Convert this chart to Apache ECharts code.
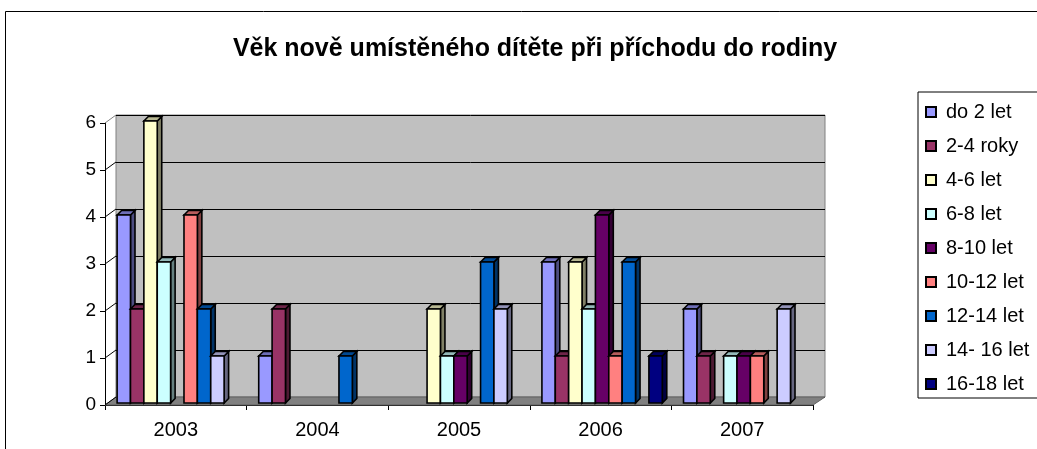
<!DOCTYPE html>
<html>
<head>
<meta charset="utf-8">
<title>Věk nově umístěného dítěte při příchodu do rodiny</title>
<script src="https://cdn.jsdelivr.net/npm/echarts@6/dist/echarts.min.js"></script>
<style>
  html, body { margin: 0; padding: 0; background: #fff; }
  #myChart { width: 1037px; height: 449px; }
</style>
</head>
<body>
<div id="myChart"></div>
<script>
// roky (kategorie osy x)
var years = ['2003', '2004', '2005', '2006', '2007']
// vekove skupiny (legenda)
var ageGroups = ['do 2 let', '2-4 roky', '4-6 let', '6-8 let', '8-10 let', '10-12 let', '12-14 let', '14- 16 let', '16-18 let']
var groupColors = ['#9999ff', '#993366', '#ffffcc', '#ccffff', '#660066', '#ff8080', '#0066cc', '#ccccff', '#000080']

// pocty deti podle roku
var do2let = [4, 1, 0, 3, 2]
var roky2to4 = [2, 2, 0, 1, 1]
var let4to6 = [6, 0, 2, 3, 0]
var let6to8 = [3, 0, 1, 2, 1]
var let8to10 = [0, 0, 1, 4, 1]
var let10to12 = [4, 0, 0, 1, 1]
var let12to14 = [2, 1, 3, 3, 0]
var let14to16 = [1, 0, 2, 0, 2]
var let16to18 = [0, 0, 0, 1, 0]
var groupValues = [do2let, roky2to4, let4to6, let6to8, let8to10, let10to12, let12to14, let14to16, let16to18]

var yTicks = [0, 1, 2, 3, 4, 5, 6]

var font = "'Liberation Sans', Arial, sans-serif"

// predni rovina grafu a zadni stena (3D efekt)
var front = { left: 105, top: 123, right: 224, bottom: 44 }
var wall = { left: 116, top: 115, right: 212, bottom: 52 }
var depth = 4.5

function shade (hex, f) {
  var n = parseInt(hex.slice(1), 16)
  var r = Math.round(((n >> 16) & 255) * f)
  var g = Math.round(((n >> 8) & 255) * f)
  var b = Math.round((n & 255) * f)
  return 'rgb(' + r + ',' + g + ',' + b + ')'
}

function renderBar (params, api) {
  var v = api.value(1)
  if (!v) return
  var cat = api.value(0)
  var base = api.coord([cat, 0])
  var top = api.coord([cat, v])
  var band = api.size([1, 0])[0]
  var bw = band * 0.85 / ageGroups.length
  var x = base[0] + (params.seriesIndex - ageGroups.length / 2) * bw + 1.5
  var y0 = base[1] - 2
  var y1 = top[1] - 2
  var color = groupColors[params.seriesIndex]
  var line = { stroke: '#000', lineWidth: 1.6 }
  return {
    type: 'group',
    children: [
      {
        type: 'polygon',
        shape: { points: [[x + bw, y1], [x + bw + depth, y1 - depth], [x + bw + depth, y0 - depth], [x + bw, y0]] },
        style: Object.assign({ fill: shade(color, 0.5) }, line)
      },
      {
        type: 'polygon',
        shape: { points: [[x, y1], [x + depth, y1 - depth], [x + bw + depth, y1 - depth], [x + bw, y1]] },
        style: Object.assign({ fill: shade(color, 0.72) }, line)
      },
      {
        type: 'rect',
        shape: { x: x, y: y1, width: bw, height: y0 - y1 },
        style: Object.assign({ fill: color }, line)
      }
    ]
  }
}

var series = []
for (var s = 0; s < ageGroups.length; s++) {
  var data = []
  for (var i = 0; i < years.length; i++) {
    data.push([i, groupValues[s][i]])
  }
  series.push({
    name: ageGroups[s],
    type: 'custom',
    xAxisIndex: 0,
    yAxisIndex: 0,
    renderItem: renderBar,
    itemStyle: { color: groupColors[s], borderColor: '#000', borderWidth: 1.5 },
    encode: { x: 0, y: 1 },
    data: data,
    z: 5
  })
}

var myChart = echarts.init(document.getElementById('myChart'))
myChart.setOption({
  animation: false,
  textStyle: { fontFamily: font },
  title: {
    text: 'Věk nově umístěného dítěte při příchodu do rodiny',
    left: 530,
    textAlign: 'center',
    top: 32,
    textStyle: { fontSize: 25, fontWeight: 'bold', color: '#000', fontFamily: font }
  },
  legend: {
    orient: 'vertical',
    left: 918,
    top: 92,
    padding: [10, 40, 4, 7],
    itemWidth: 10,
    itemHeight: 10,
    itemGap: 14,
    icon: 'rect',
    backgroundColor: '#fff',
    borderColor: '#000',
    borderWidth: 1,
    textStyle: { fontSize: 20, lineHeight: 20, color: '#000', fontFamily: font, padding: [0, 0, 0, 5] },
    data: ageGroups
  },
  grid: [
    { left: front.left, top: front.top, right: front.right, bottom: front.bottom },
    { left: wall.left, top: wall.top, right: wall.right, bottom: wall.bottom, show: true, backgroundColor: '#c0c0c0', borderColor: '#808080', borderWidth: 1 }
  ],
  xAxis: [
    {
      gridIndex: 0,
      type: 'category',
      data: years,
      axisLine: { lineStyle: { color: '#000', width: 1 } },
      axisTick: { show: true, length: 5, lineStyle: { color: '#000' } },
      axisLabel: { fontSize: 20, color: '#000', margin: 15, fontFamily: font },
      splitLine: { show: false }
    },
    { gridIndex: 1, type: 'category', data: years, show: false }
  ],
  yAxis: [
    {
      gridIndex: 0,
      type: 'value',
      min: 0,
      max: 6,
      interval: 1,
      axisLine: { show: true, lineStyle: { color: '#000', width: 1 } },
      axisTick: { show: true, length: 5, lineStyle: { color: '#000' } },
      axisLabel: { fontSize: 19, color: '#000', margin: 9, fontFamily: font },
      splitLine: { show: false }
    },
    {
      gridIndex: 1,
      type: 'value',
      min: 0,
      max: 6,
      interval: 1,
      axisLine: { show: false },
      axisTick: { show: false },
      axisLabel: { show: false },
      splitLine: { show: true, lineStyle: { color: '#000', width: 1 } }
    }
  ],
  series: series
})

// podlaha, spojnice k zadni stene a ramecek
var W = 1037
var H = 449
var graphics = [
  {
    type: 'rect',
    shape: { x: 5.5, y: 11.5, width: 1100, height: 600 },
    style: { fill: 'none', stroke: '#000', lineWidth: 1 },
    z: 0
  },
  {
    type: 'polygon',
    shape: {
      points: [
        [front.left, H - front.bottom],
        [wall.left, H - wall.bottom],
        [W - wall.right, H - wall.bottom],
        [W - front.right, H - front.bottom]
      ]
    },
    style: { fill: '#808080', stroke: '#606060', lineWidth: 1 },
    z: 1
  }
]
yTicks.forEach(function (v) {
  var yf = myChart.convertToPixel({ yAxisIndex: 0 }, v)
  var yw = myChart.convertToPixel({ yAxisIndex: 1 }, v)
  graphics.push({
    type: 'line',
    shape: { x1: front.left, y1: yf, x2: wall.left, y2: yw },
    style: { stroke: v === yTicks[yTicks.length - 1] ? '#808080' : '#000', lineWidth: 1 },
    z: 1
  })
})
myChart.setOption({ graphic: graphics })
</script>
</body>
</html>
